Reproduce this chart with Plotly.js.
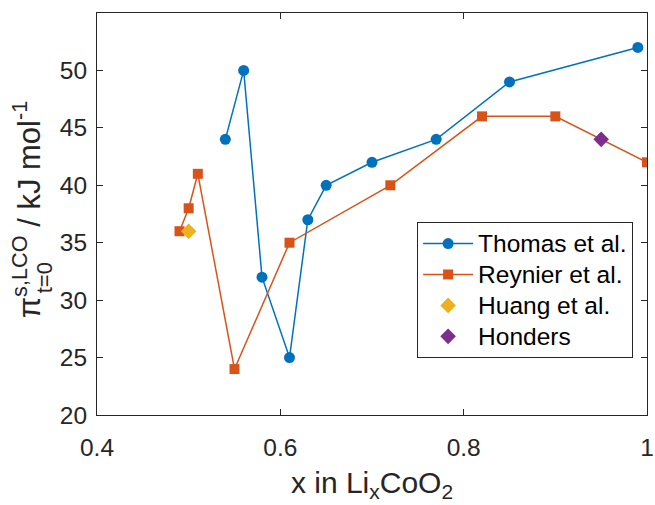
<!DOCTYPE html>
<html>
<head>
<meta charset="utf-8">
<script src="https://cdn.plot.ly/plotly-3.0.1.min.js"></script>
<style>html,body{margin:0;padding:0;background:#fff;}#chart{width:655px;height:505px;}</style>
</head>
<body>
<div id="chart"></div>
<script>
// Data
const thomasX = [0.54, 0.56, 0.58, 0.61, 0.63, 0.65, 0.70, 0.77, 0.85, 0.99];
const thomasY = [44, 50, 32, 25, 37, 40, 42, 44, 49, 52];
const reynierX = [0.49, 0.50, 0.51, 0.55, 0.61, 0.72, 0.82, 0.90, 1.00];
const reynierY = [36, 38, 41, 24, 35, 40, 46, 46, 42];
const huangX = [0.50];
const huangY = [36];
const hondersX = [0.95];
const hondersY = [44];
const seriesNames = ["Thomas et al.", "Reynier et al.", "Huang et al.", "Honders"];
const xTicks = [0.4, 0.6, 0.8, 1];
const xTickLabels = ["0.4", "0.6", "0.8", "1"];
const yTicks = [20, 25, 30, 35, 40, 45, 50];

const FONT = "Liberation Sans, Arial, Helvetica, sans-serif";
const AX = "#262626";
const legName = n => '<span style="font-size:24.5px">' + n + '</span>';

const traces = [
  {x: thomasX, y: thomasY, name: legName(seriesNames[0]), mode: "lines+markers",
   line: {color: "#0072BD", width: 1.5}, marker: {symbol: "circle", size: 11, color: "#0072BD"}},
  {x: reynierX, y: reynierY, name: legName(seriesNames[1]), mode: "lines+markers",
   line: {color: "#D95319", width: 1.5}, marker: {symbol: "square", size: 10, color: "#D95319"}},
  {x: huangX, y: huangY, name: legName(seriesNames[2]), mode: "markers",
   marker: {symbol: "diamond", size: 12, color: "#EDB120"}},
  {x: hondersX, y: hondersY, name: legName(seriesNames[3]), mode: "markers",
   marker: {symbol: "diamond", size: 12, color: "#7E2F8E"}}
];

const layout = {
  width: 655, height: 505,
  margin: {l: 97, r: 8, t: 13, b: 90},
  paper_bgcolor: "#fff", plot_bgcolor: "#fff",
  font: {family: FONT, color: AX, size: 24},
  showlegend: true,
  xaxis: {
    range: [0.4, 1], tickvals: xTicks, ticktext: xTickLabels,
    ticks: "inside", ticklen: 6, tickcolor: AX, tickwidth: 1,
    showline: true, linecolor: AX, linewidth: 1, mirror: "ticks",
    showgrid: false, zeroline: false,
    tickfont: {size: 24.5, color: AX, family: FONT},
    ticklabelstandoff: 11,
    title: {text: "x in Li<sub>x</sub>CoO<sub>2</sub>", font: {size: 30, color: AX, family: FONT}, standoff: 11}
  },
  yaxis: {
    range: [20, 55], tickvals: yTicks,
    ticks: "inside", ticklen: 6, tickcolor: AX, tickwidth: 1,
    showline: true, linecolor: AX, linewidth: 1, mirror: "ticks",
    showgrid: false, zeroline: false,
    tickfont: {size: 24.5, color: AX, family: FONT},
    ticklabelstandoff: 4
  },
  legend: {
    x: 0.582, y: 0.48, xanchor: "left", yanchor: "top",
    bgcolor: "#fff", bordercolor: AX, borderwidth: 1,
    font: {size: 21.5, color: "#000", family: FONT},
    itemwidth: 50, tracegroupgap: 0
  },
  annotations: [
    {xref: "paper", yref: "paper", x: -0.127, y: 0.236, xanchor: "center", yanchor: "bottom",
     textangle: -90, showarrow: false,
     text: "π<sup>s,LCO</sup> / kJ mol<sup>-1</sup>", font: {size: 31, color: AX, family: FONT}},
    {xref: "paper", yref: "paper", x: -0.095, y: 0.342, xanchor: "center", yanchor: "middle",
     textangle: -90, showarrow: false,
     text: "t=0", font: {size: 22, color: AX, family: FONT}}
  ]
};

Plotly.newPlot("chart", traces, layout, {displayModeBar: false, staticPlot: true});
</script>
</body>
</html>
